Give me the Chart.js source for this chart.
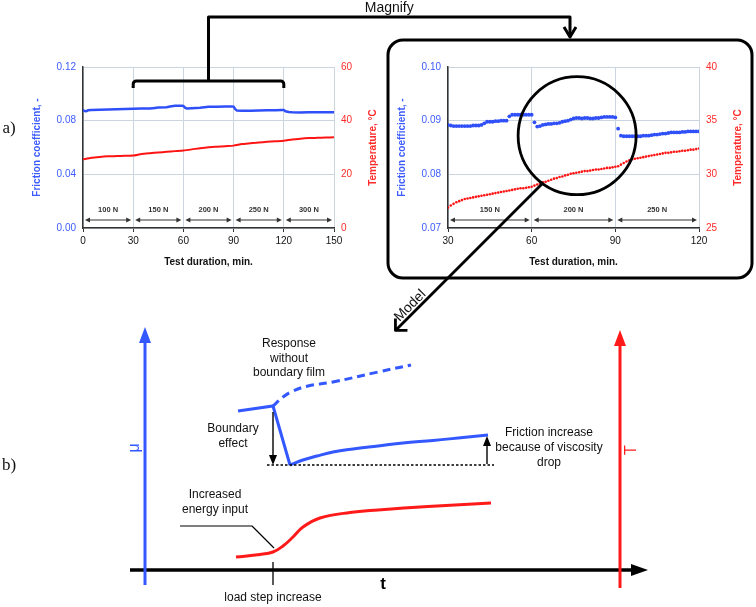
<!DOCTYPE html>
<html><head><meta charset="utf-8">
<script src="https://cdn.jsdelivr.net/npm/chart.js@4/dist/chart.umd.min.js"></script>
<style>
html,body{margin:0;padding:0;background:#fff;width:756px;height:607px;overflow:hidden;}
canvas{position:absolute;}
#left{left:27px;top:40px;}
#right{left:392px;top:40px;}
#overlay{left:0;top:0;pointer-events:none;}
</style></head><body>
<canvas id="left" width="356" height="232"></canvas>
<canvas id="right" width="356" height="232"></canvas>
<canvas id="overlay" width="756" height="607"></canvas>
<script>
// ---------------- DATA ----------------
const loadBoundsFull = [0, 30, 60, 90, 120, 150];
const loadLabelsFull = ['100 N', '150 N', '200 N', '250 N', '300 N'];
const loadBoundsMag = [30, 60, 90, 120];
const loadLabelsMag = ['150 N', '200 N', '250 N'];

// full test (0-150 min)
const fullFrictionTime = [0,1,2,3,5,10,15,20,25,30,35,40,43,45,50,52,55,59,60,61,62,65,70,75,80,85,89,90,91,92,95,100,105,110,115,119,120,121,123,125,130,135,140,145,150];
const fullFriction = [.0878,.0872,.0870,.0877,.0880,.0882,.0884,.0886,.0887,.0889,.0890,.0891,.0895,.0898,.0900,.0906,.0911,.0911,.0910,.0897,.0890,.0892,.0896,.0903,.0904,.0905,.0906,.0905,.0886,.0875,.0874,.0874,.0875,.0877,.0878,.0879,.0879,.0870,.0864,.0862,.0861,.0862,.0863,.0863,.0863];
const fullTempTime = [0,5,10,15,20,25,30,35,40,45,50,55,60,65,70,75,80,85,90,95,100,105,110,115,120,125,130,135,140,145,150];
const fullTemp = [25.6,26.2,26.5,26.7,26.8,26.9,27.0,27.6,27.9,28.15,28.4,28.65,28.9,29.3,29.75,30.1,30.3,30.5,30.7,31.3,31.6,31.9,32.1,32.3,32.5,33.0,33.3,33.5,33.6,33.7,33.8];

// magnified window, one reading per minute from minute 30 to 120
const magStartMinute = 30;
const magFriction = [
 .0892,.0891,.0890,.0890,.0890,.0890,.0890,.0890,.0890,.0891,
 .0891,.0891,.0892,.0895,.0898,.0898,.0898,.0899,.0899,.0900,
 .0900,.0900,.0908,.0911,.0911,.0911,.0911,.0911,.0911,.0911,
 .0911,.0897,.0889,.0890,.0892,.0893,.0894,.0894,.0895,.0895,
 .0896,.0898,.0899,.0900,.0902,.0904,.0905,.0905,.0904,.0905,
 .0905,.0904,.0904,.0905,.0905,.0906,.0907,.0907,.0907,.0907,
 .0906,.0885,.0872,.0871,.0871,.0871,.0871,.0871,.0871,.0871,
 .0872,.0872,.0872,.0873,.0874,.0874,.0875,.0876,.0876,.0877,
 .0878,.0878,.0878,.0878,.0879,.0879,.0880,.0880,.0880,.0880,
 .0880];
const magTemp = [
 26.9,27.1,27.25,27.4,27.5,27.6,27.7,27.75,27.8,27.85,
 27.9,27.95,28.0,28.05,28.1,28.15,28.2,28.25,28.3,28.35,
 28.4,28.45,28.5,28.55,28.6,28.65,28.7,28.7,28.75,28.8,
 28.85,28.95,29.05,29.15,29.25,29.3,29.4,29.5,29.6,29.65,
 29.75,29.8,29.9,29.95,30.05,30.1,30.15,30.2,30.25,30.3,
 30.3,30.35,30.4,30.45,30.45,30.5,30.55,30.6,30.6,30.65,
 30.7,30.75,30.9,31.05,31.2,31.3,31.4,31.45,31.5,31.55,
 31.6,31.65,31.7,31.75,31.8,31.85,31.9,31.95,32.0,32.0,
 32.05,32.1,32.1,32.15,32.2,32.2,32.25,32.3,32.3,32.35,
 32.4];

// model schematic (arbitrary units: t, response)
const modelMuPreT = [-3.5, 0, 1.7];
const modelMuPre = [15.9, 16.4, 10.5];
const modelMuPostT = [1.7, 3, 4.4, 6, 8, 10.5, 13, 16, 19, 21.5];
const modelMuPost = [10.5, 11.0, 11.4, 11.8, 12.1, 12.4, 12.7, 12.95, 13.25, 13.5];
const modelMuNoFilmT = [0, 1.0, 2.0, 3.5, 6, 10.5, 13.8];
const modelMuNoFilm = [16.4, 17.3, 17.9, 18.4, 18.8, 19.8, 20.5];
const modelTempT = [-3.7, -1.3, 0, 1, 2, 3, 4.7, 7.7, 10.5, 15.5, 21.8];
const modelTemp = [1.3, 1.55, 1.8, 2.4, 3.3, 4.3, 5.2, 5.75, 6.0, 6.35, 6.7];

// ---------------- STYLE ----------------
Chart.defaults.font.family = "'Liberation Sans', Arial, sans-serif";
Chart.defaults.animation = false;
const BLUE_TXT = '#3d5cff', RED_TXT = '#ff2a2a';
const BLUE = '#2f4ff8', RED = '#ff1414';
const GRID = '#cbd5df';
const SBLUE = '#3358ff', SRED = '#ff1a1a';

const pairs = (xs, ys) => ys.map((v, i) => ({x: xs[i], y: v}));

function makeScales(xMin, xMax, yMin, yMax, yStep, tMin, tMax, tStep) {
  return {
    x: {type: 'linear', min: xMin, max: xMax,
        ticks: {stepSize: 30, color: '#111', font: {size: 10}, padding: 3, maxRotation: 0},
        grid: {color: GRID, lineWidth: 1, drawTicks: true, tickLength: 4, tickColor: '#333'},
        border: {display: true, color: '#333', width: 1.5},
        title: {display: true, text: 'Test duration, min.', color: '#111', font: {size: 10, weight: 'bold'}},
        afterFit(s) { s.height = 44; }},
    y: {type: 'linear', position: 'left', min: yMin, max: yMax,
        ticks: {stepSize: yStep, color: BLUE_TXT, font: {size: 10}, padding: 7, callback: v => Number(v).toFixed(2)},
        grid: {color: GRID, drawTicks: false},
        border: {display: true, color: '#333', width: 1.5},
        title: {display: true, text: 'Friction coefficient, -', color: BLUE_TXT, font: {size: 10, weight: 'bold'}},
        afterFit(s) { s.width = 56; }},
    y1: {type: 'linear', position: 'right', min: tMin, max: tMax,
        ticks: {stepSize: tStep, color: RED_TXT, font: {size: 10}, padding: 7},
        grid: {display: false, drawTicks: false},
        border: {display: false},
        title: {display: false},
        afterFit(s) { s.width = 49; }}
  };
}

const loadPlugin = {
  id: 'loads',
  afterDraw(chart, args, opts) {
    const {ctx, chartArea, scales} = chart;
    const x = scales.x;
    const yL = chartArea.bottom - 18, yA = chartArea.bottom - 8;
    ctx.save();
    ctx.strokeStyle = '#333'; ctx.fillStyle = '#333'; ctx.lineWidth = 1;
    ctx.font = "bold 7.5px 'Liberation Sans', Arial, sans-serif";
    ctx.textAlign = 'center'; ctx.textBaseline = 'middle';
    const b = opts.bounds, l = opts.labels;
    for (let i = 0; i < l.length; i++) {
      const x1 = x.getPixelForValue(b[i]) + 2, x2 = x.getPixelForValue(b[i + 1]) - 2;
      ctx.beginPath(); ctx.moveTo(x1 + 3, yA); ctx.lineTo(x2 - 3, yA); ctx.stroke();
      ctx.beginPath(); ctx.moveTo(x1, yA); ctx.lineTo(x1 + 5, yA - 2.5); ctx.lineTo(x1 + 5, yA + 2.5); ctx.closePath(); ctx.fill();
      ctx.beginPath(); ctx.moveTo(x2, yA); ctx.lineTo(x2 - 5, yA - 2.5); ctx.lineTo(x2 - 5, yA + 2.5); ctx.closePath(); ctx.fill();
      ctx.fillText(l[i], (x1 + x2) / 2, yL);
    }
    // right axis title (reads bottom to top)
    ctx.translate(chartArea.right + 49 - 10, (chartArea.top + chartArea.bottom) / 2);
    ctx.rotate(-Math.PI / 2);
    ctx.fillStyle = RED_TXT;
    ctx.font = "bold 10px 'Liberation Sans', Arial, sans-serif";
    ctx.fillText('Temperature, °C', 0, 0);
    ctx.restore();
  }
};

const leftChart = new Chart(document.getElementById('left'), {
  type: 'line',
  data: {datasets: [
    {data: pairs(fullFrictionTime, fullFriction), borderColor: BLUE, borderWidth: 2.5, pointRadius: 0, yAxisID: 'y', tension: 0},
    {data: pairs(fullTempTime, fullTemp), borderColor: RED, borderWidth: 2, pointRadius: 0, yAxisID: 'y1', tension: 0.2}
  ]},
  options: {responsive: false, events: [], layout: {padding: {top: 27, left: 0, right: 0, bottom: 0}},
    plugins: {legend: {display: false}, tooltip: {enabled: false}, loads: {bounds: loadBoundsFull, labels: loadLabelsFull}},
    scales: makeScales(0, 150, 0, 0.12, 0.04, 0, 60, 20)},
  plugins: [loadPlugin]
});

const rightChart = new Chart(document.getElementById('right'), {
  type: 'scatter',
  data: {datasets: [
    {data: magFriction.map((v, i) => ({x: magStartMinute + i, y: v})), backgroundColor: BLUE, borderWidth: 0, pointRadius: 1.9, yAxisID: 'y'},
    {data: magTemp.map((v, i) => ({x: magStartMinute + i, y: v})), backgroundColor: RED, borderWidth: 0, pointRadius: 1.3, yAxisID: 'y1'}
  ]},
  options: {responsive: false, events: [], layout: {padding: {top: 27, left: 0, right: 0, bottom: 0}},
    plugins: {legend: {display: false}, tooltip: {enabled: false}, loads: {bounds: loadBoundsMag, labels: loadLabelsMag}},
    scales: makeScales(30, 120, 0.07, 0.10, 0.01, 25, 40, 5)},
  plugins: [loadPlugin]
});

// ---------------- overlay: model schematic + connectors ----------------
const zoomCircle = {minute: 76.3, friction: 0.0872, radius: 59};

function arrowHead(ctx, tx, ty, dx, dy, len, half) {
  const n = Math.hypot(dx, dy); dx /= n; dy /= n;
  ctx.beginPath();
  ctx.moveTo(tx, ty);
  ctx.lineTo(tx - dx * len - dy * half, ty - dy * len + dx * half);
  ctx.lineTo(tx - dx * len + dy * half, ty - dy * len - dx * half);
  ctx.closePath(); ctx.fill();
}

const annotPlugin = {
  id: 'annot',
  afterDraw(chart) {
    const ctx = chart.ctx;
    const X = v => chart.scales.x.getPixelForValue(v), Y = v => chart.scales.y.getPixelForValue(v);
    const F = (s, w) => (w ? 'bold ' : '') + s + "px 'Liberation Sans', Arial, sans-serif";
    ctx.save();
    ctx.lineCap = 'butt'; ctx.lineJoin = 'round';

    // panel letters
    ctx.fillStyle = '#111'; ctx.textAlign = 'center'; ctx.textBaseline = 'middle';
    ctx.font = "17px 'Liberation Serif', 'Times New Roman', serif";
    ctx.fillText('a)', 9, 129);
    ctx.fillText('b)', 9, 466);

    // ---- magnify bracket ----
    const Lc = leftChart, Rc = rightChart;
    const lox = Lc.canvas.offsetLeft, loy = Lc.canvas.offsetTop;
    const bx1 = lox + Lc.scales.x.getPixelForValue(30), bx2 = lox + Lc.scales.x.getPixelForValue(120);
    const bmid = (bx1 + bx2) / 2, by = loy + Lc.chartArea.top + 14;
    const box = {l: Rc.canvas.offsetLeft - 4, t: Rc.canvas.offsetTop, r: Rc.canvas.offsetLeft + Rc.canvas.width + 4, b: Rc.canvas.offsetTop + Rc.canvas.height + 6};
    const bcx = (box.l + box.r) / 2, topY = 17;
    ctx.strokeStyle = '#000'; ctx.lineWidth = 3;
    ctx.beginPath();
    ctx.moveTo(bx1, by + 7); ctx.arcTo(bx1, by, bx1 + 4, by, 3); ctx.arcTo(bx2, by, bx2, by + 4, 3); ctx.lineTo(bx2, by + 7);
    ctx.stroke();
    ctx.beginPath();
    ctx.moveTo(bmid, by); ctx.lineTo(bmid, topY); ctx.lineTo(bcx, topY); ctx.lineTo(bcx, box.t - 3);
    ctx.stroke();
    ctx.beginPath();
    ctx.moveTo(bcx - 6, box.t - 13); ctx.lineTo(bcx, box.t - 3); ctx.lineTo(bcx + 6, box.t - 13);
    ctx.stroke();
    ctx.fillStyle = '#111'; ctx.font = F(14); ctx.textBaseline = 'middle';
    ctx.fillText('Magnify', (bmid + bcx) / 2, 8);

    // box around magnified chart
    ctx.lineWidth = 3;
    ctx.beginPath();
    ctx.roundRect(box.l, box.t, box.r - box.l, box.b - box.t, 15);
    ctx.stroke();

    // circle and model arrow
    const cx = Rc.canvas.offsetLeft + Rc.scales.x.getPixelForValue(zoomCircle.minute);
    const cy = Rc.canvas.offsetTop + Rc.scales.y.getPixelForValue(zoomCircle.friction);
    const r = zoomCircle.radius;
    ctx.lineWidth = 2.8;
    ctx.beginPath(); ctx.arc(cx, cy, r, 0, Math.PI * 2); ctx.stroke();
    const a = 126 * Math.PI / 180;
    const sx = cx + r * Math.cos(a), sy = cy + r * Math.sin(a);
    const ex = sx - 147, ey = sy + 147;
    ctx.lineWidth = 2.8;
    ctx.beginPath(); ctx.moveTo(sx, sy); ctx.lineTo(ex, ey); ctx.stroke();
    ctx.beginPath(); ctx.moveTo(ex, ey - 12); ctx.lineTo(ex, ey); ctx.lineTo(ex + 12, ey); ctx.stroke();
    ctx.save();
    const s2 = Math.SQRT1_2;
    ctx.translate(ex + (28 - 7) * s2, ey + (-28 - 7) * s2);
    ctx.rotate(-Math.PI / 4);
    ctx.font = F(14); ctx.fillText('Model', 0, 0);
    ctx.restore();

    // ---- model schematic axes ----
    // t axis
    ctx.strokeStyle = '#000'; ctx.fillStyle = '#000'; ctx.lineWidth = 3.5;
    const y0 = Y(0);
    ctx.beginPath(); ctx.moveTo(X(-14.3), y0); ctx.lineTo(X(37.5) - 12, y0); ctx.stroke();
    arrowHead(ctx, X(37.5), y0, 1, 0, 17, 6);
    // mu axis
    ctx.strokeStyle = SBLUE; ctx.fillStyle = SBLUE; ctx.lineWidth = 3;
    ctx.beginPath(); ctx.moveTo(X(-12.8), Y(-1.5)); ctx.lineTo(X(-12.8), Y(24.3) + 12); ctx.stroke();
    arrowHead(ctx, X(-12.8), Y(24.3), 0, -1, 16, 6);
    // T axis
    ctx.strokeStyle = SRED; ctx.fillStyle = SRED;
    ctx.beginPath(); ctx.moveTo(X(34.7), Y(-1.8)); ctx.lineTo(X(34.7), Y(24.0) + 12); ctx.stroke();
    arrowHead(ctx, X(34.7), Y(24.0), 0, -1, 16, 6);
    // axis symbols
    ctx.textAlign = 'center'; ctx.textBaseline = 'middle';
    ctx.save(); ctx.translate(X(-13.8), Y(12.2)); ctx.rotate(-Math.PI / 2);
    ctx.fillStyle = SBLUE; ctx.font = F(16); ctx.fillText('μ', 0, 0); ctx.restore();
    ctx.save(); ctx.translate(X(35.9), Y(12.0)); ctx.rotate(-Math.PI / 2);
    ctx.fillStyle = SRED; ctx.font = F(16); ctx.fillText('T', 0, 0); ctx.restore();
    ctx.fillStyle = '#000'; ctx.font = F(17, true);
    ctx.fillText('t', X(11.0), Y(-1.4));

    // load step tick
    ctx.strokeStyle = '#000'; ctx.lineWidth = 1.3;
    ctx.beginPath(); ctx.moveTo(X(0), Y(0.8)); ctx.lineTo(X(0), Y(-1.5)); ctx.stroke();
    ctx.font = F(12); ctx.fillStyle = '#111';
    ctx.fillText('load step increase', X(0), Y(-2.8));

    // dotted reference line
    ctx.setLineDash([2.5, 2]); ctx.lineWidth = 1.4;
    ctx.beginPath(); ctx.moveTo(X(-0.6), Y(10.5)); ctx.lineTo(X(22.1), Y(10.5)); ctx.stroke();
    ctx.setLineDash([]);
    // boundary effect arrow (down)
    ctx.lineWidth = 1.4; ctx.fillStyle = '#000';
    ctx.beginPath(); ctx.moveTo(X(0), Y(15.8)); ctx.lineTo(X(0), Y(10.5) - 8); ctx.stroke();
    arrowHead(ctx, X(0), Y(10.5), 0, 1, 10, 4);
    // viscosity arrow (up)
    ctx.beginPath(); ctx.moveTo(X(21.4), Y(10.6)); ctx.lineTo(X(21.4), Y(13.4) + 8); ctx.stroke();
    arrowHead(ctx, X(21.4), Y(13.4), 0, -1, 10, 4);
    // leader line for energy input
    ctx.lineWidth = 1.2;
    ctx.beginPath(); ctx.moveTo(X(-9.3), Y(4.4)); ctx.lineTo(X(-2.1), Y(4.4)); ctx.lineTo(X(0.1), Y(2.2)); ctx.stroke();

    // texts
    ctx.fillStyle = '#111'; ctx.font = F(12);
    const lines = (arr, t, ys) => arr.forEach((s, i) => ctx.fillText(s, X(t), Y(ys[i])));
    lines(['Response', 'without', 'boundary film'], 1.6, [22.6, 21.1, 19.7]);
    lines(['Boundary', 'effect'], -4.0, [14.1, 12.6]);
    lines(['Friction increase', 'because of viscosity', 'drop'], 27.6, [13.7, 12.2, 10.7]);
    lines(['Increased', 'energy input'], -5.8, [7.5, 6.0]);
    ctx.restore();
  }
};

new Chart(document.getElementById('overlay'), {
  type: 'line',
  data: {datasets: [
    {data: pairs(modelMuPreT, modelMuPre), borderColor: SBLUE, borderWidth: 3, pointRadius: 0, tension: 0, borderJoinStyle: 'miter'},
    {data: pairs(modelMuPostT, modelMuPost), borderColor: SBLUE, borderWidth: 3, pointRadius: 0, tension: 0.4},
    {data: pairs(modelMuNoFilmT, modelMuNoFilm), borderColor: SBLUE, borderWidth: 3, pointRadius: 0, tension: 0.4, borderDash: [8, 5]},
    {data: pairs(modelTempT, modelTemp), borderColor: SRED, borderWidth: 3, pointRadius: 0, tension: 0.4}
  ]},
  options: {responsive: false, events: [], layout: {padding: 0},
    plugins: {legend: {display: false}, tooltip: {enabled: false}},
    scales: {
      x: {type: 'linear', display: false, min: -27.3, max: 48.3},
      y: {type: 'linear', display: false, min: -3.7, max: 57}
    }},
  plugins: [annotPlugin]
});
</script>
</body></html>
